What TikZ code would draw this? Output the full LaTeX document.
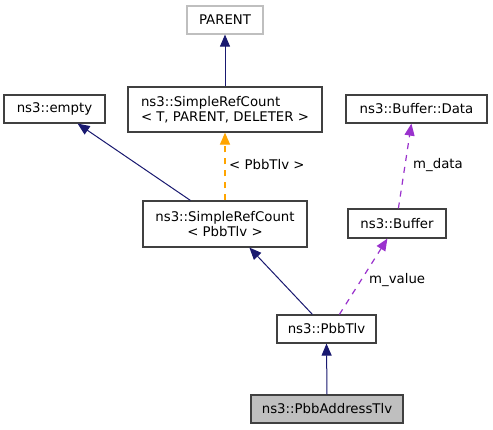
\documentclass[tikz,border=0pt]{standalone}
\usepackage{fontspec}
\setmainfont{DejaVu Sans}
\usetikzlibrary{arrows.meta,calc}
\definecolor{navyedge}{HTML}{191970}
\definecolor{orangeedge}{HTML}{FFA500}
\definecolor{purpleedge}{HTML}{9A32CD}
\definecolor{boxborder}{HTML}{404040}
\definecolor{greyborder}{HTML}{BFBFBF}
\definecolor{greyfill}{HTML}{BFBFBF}
\begin{document}
\begin{tikzpicture}[x=1pt,y=-1pt,
  every node/.style={font=\fontsize{13.3}{15}\selectfont},
  cls/.style={draw=boxborder,line width=1.2pt,fill=white,inner sep=0pt,align=center},
  inherit/.style={color=navyedge,line width=1pt,-{Triangle[length=12pt,width=10pt]}},
  tmpl/.style={color=orangeedge,line width=1.2pt,dash pattern=on 6pt off 6pt,-{Triangle[length=12pt,width=10pt]}},
  usage/.style={color=purpleedge,line width=1.2pt,dash pattern=on 6pt off 6pt,-{Triangle[length=12pt,width=10pt]}},
  elabel/.style={anchor=west,inner sep=0pt,text=black}]
\useasboundingbox (0,0) rectangle (493,429);
\fill[white] (0,0) rectangle (493,429);
\node[cls,draw=greyborder,minimum width=76pt,minimum height=28pt] (parent) at (225,20) {PARENT};
\node[cls,align=left,minimum width=194pt,minimum height=45pt] (srct) at (225,109.5) {ns3::SimpleRefCount\\< T, PARENT, DELETER >};
\node[cls,minimum width=101pt,minimum height=28pt] (empty) at (54.5,109) {ns3::empty};
\node[cls,minimum width=141pt,minimum height=28pt] (data) at (416.5,109) {ns3::Buffer::Data};
\node[cls,minimum width=164pt,minimum height=46pt] (srcp) at (225,224) {ns3::SimpleRefCount\\< PbbTlv >};
\node[cls,minimum width=98pt,minimum height=29pt] (buffer) at (397,223.5) {ns3::Buffer};
\node[cls,minimum width=99pt,minimum height=28pt] (pbbtlv) at (326.5,329) {ns3::PbbTlv};
\node[cls,fill=greyfill,minimum width=152pt,minimum height=28pt] (addr) at (327,409) {ns3::PbbAddressTlv};
% edges
\draw[inherit] (srct.north) -- (parent.south);
\draw[inherit] ($(srcp.north west)+(48,0)$) -- ($(empty.south east)+(-28,0)$);
\draw[tmpl] (srcp.north) -- (srct.south);
\node[elabel] (lab1) at (229,165) {< PbbTlv >};
\draw[inherit] ($(pbbtlv.north west)+(36,0)$) -- ($(srcp.south west)+(107,0)$);
\draw[usage] ($(pbbtlv.north west)+(63,0)$) -- ($(buffer.south west)+(40,0)$);
\node[elabel] (lab2) at (369,280) {m\_value};
\draw[usage] ($(buffer.north west)+(51,0)$) -- ($(data.south west)+(66,0)$);
\node[elabel] (lab3) at (413,165) {m\_data};
\draw[inherit] (addr.north) -- (pbbtlv.south);
\end{tikzpicture}
\end{document}
